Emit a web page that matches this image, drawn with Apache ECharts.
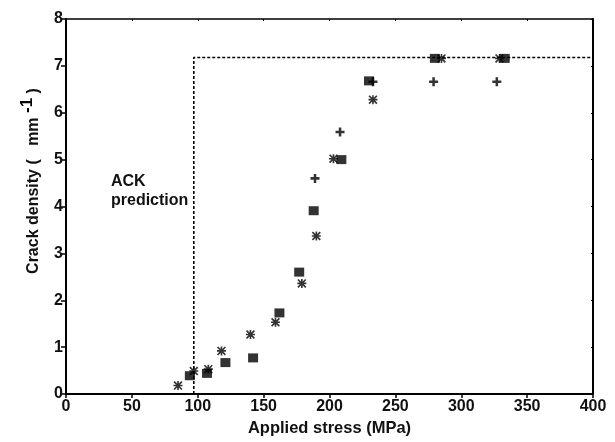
<!DOCTYPE html>
<html>
<head>
<meta charset="utf-8">
<script src="https://cdn.jsdelivr.net/npm/echarts@6/dist/echarts.min.js"></script>
<style>html,body{margin:0;padding:0;background:#fff;}#c{width:615px;height:442px;}</style>
</head>
<body>
<div id="c"></div>
<script>
// Data (applied stress MPa, crack density mm^-1)
var squares = [[94,0.39],[107,0.44],[121,0.67],[142,0.77],[162,1.73],[177,2.6],[188,3.91],[209,5.0],[230,6.68],[280,7.16],[333,7.16]];
var asterisks = [[85,0.18],[97,0.49],[108,0.53],[118,0.92],[140,1.27],[159,1.53],[179,2.36],[190,3.37],[203,5.02],[233,6.28],[285,7.16],[329,7.16]];
var pluses = [[189,4.6],[208,5.59],[233,6.66],[279,6.66],[327,6.66]];
var ackPrediction = [[97,0],[97,7.18],[400,7.18]];
var xTicks = [0,50,100,150,200,250,300,350,400];
var yTicks = [0,1,2,3,4,5,6,7,8];

var FONT = '"Liberation Sans", Arial, Helvetica, sans-serif';
var asteriskPath = 'path://M0,4.1L10,4.1L10,5.9L0,5.9Z M4.1,0L5.9,0L5.9,10L4.1,10Z M1.3,0L10,8.7L8.7,10L0,1.3Z M8.7,0L10,1.3L1.3,10L0,8.7Z';
var plusPath = 'path://M3.6,0L6.4,0L6.4,3.6L10,3.6L10,6.4L6.4,6.4L6.4,10L3.6,10L3.6,6.4L0,6.4L0,3.6L3.6,3.6Z';

var chart = echarts.init(document.getElementById('c'));
chart.setOption({
  animation: false,
  backgroundColor: '#fff',
  grid: {left: 66, right: 22, top: 19, bottom: 48, containLabel: false},
  xAxis: [{
    type: 'value', min: xTicks[0], max: xTicks[xTicks.length-1], interval: 50,
    name: 'Applied stress (MPa)', nameLocation: 'middle', nameGap: 24,
    nameTextStyle: {fontFamily: FONT, fontSize: 16.5, fontWeight: 'bold', color: '#111'},
    axisLine: {show: true, onZero: false, lineStyle: {color: '#000', width: 2}},
    axisTick: {show: true, inside: false, length: 4, lineStyle: {color: '#000', width: 1.5}},
    axisLabel: {fontFamily: FONT, fontSize: 16, fontWeight: 'bold', color: '#111', margin: 5},
    splitLine: {show: false}
  }, {
    type: 'value', position: 'top', min: 0, max: 400, interval: 50,
    axisLine: {show: true, onZero: false, lineStyle: {color: '#000', width: 1.5}},
    axisTick: {show: true, inside: true, length: 2, lineStyle: {color: '#000'}},
    axisLabel: {show: false}, splitLine: {show: false}
  }],
  yAxis: [{
    type: 'value', min: yTicks[0], max: yTicks[yTicks.length-1], interval: 1,
    axisLine: {show: true, onZero: false, lineStyle: {color: '#000', width: 2}},
    axisTick: {show: true, inside: false, length: 5, lineStyle: {color: '#000', width: 1.5}},
    axisLabel: {fontFamily: FONT, fontSize: 16, fontWeight: 'bold', color: '#111', margin: 3},
    splitLine: {show: false}
  }, {
    type: 'value', position: 'right', min: 0, max: 8, interval: 1,
    axisLine: {show: true, onZero: false, lineStyle: {color: '#000', width: 2}},
    axisTick: {show: true, inside: true, length: 2, lineStyle: {color: '#000'}},
    axisLabel: {show: false}, splitLine: {show: false}
  }],
  graphic: [{
    type: 'text', x: 30, y: 181, rotation: Math.PI / 2,
    style: {
      text: '{n|Crack density (   mm }{s|-1}{n| )}',
      align: 'center', verticalAlign: 'middle',
      fill: '#111',
      rich: {
        n: {fontFamily: FONT, fontSize: 16, fontWeight: 'bold', fill: '#111', verticalAlign: 'bottom'},
        s: {fontFamily: FONT, fontSize: 17, fontWeight: 'bold', fill: '#000', verticalAlign: 'bottom', padding: [0, 0, 6, 0]}
      }
    }
  }, {
    type: 'text', x: 111, y: 172,
    style: {
      text: 'ACK\nprediction', fontFamily: FONT, fontSize: 16, fontWeight: 'bold', fill: '#111',
      lineHeight: 19, align: 'left', verticalAlign: 'top'
    }
  }],
  series: [{
    type: 'line', data: ackPrediction, symbol: 'none', silent: true,
    lineStyle: {color: '#000', width: 1.6, type: [3, 2]}, z: 1
  }, {
    type: 'scatter', data: asterisks, symbol: asteriskPath, symbolSize: 9,
    itemStyle: {color: '#000'}, z: 2
  }, {
    type: 'scatter', data: pluses, symbol: plusPath, symbolSize: 9,
    itemStyle: {color: '#000'}, z: 2
  }, {
    type: 'scatter', data: squares, symbol: 'rect', symbolSize: [10, 9],
    itemStyle: {color: '#000'}, z: 3
  }]
});
</script>
</body>
</html>
